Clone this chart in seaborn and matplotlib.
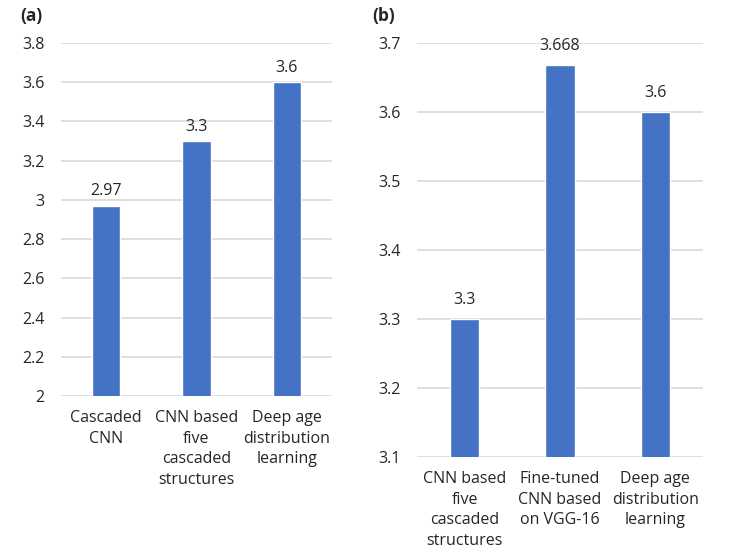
import matplotlib
matplotlib.use("Agg")
import matplotlib.pyplot as plt
import seaborn as sns

# panel (a)
cats_a = ["Cascaded\nCNN", "CNN based\nfive\ncascaded\nstructures", "Deep age\ndistribution\nlearning"]
vals_a = [2.97, 3.3, 3.6]
labels_a = ["2.97", "3.3", "3.6"]
ticks_a = [2, 2.2, 2.4, 2.6, 2.8, 3, 3.2, 3.4, 3.6, 3.8]
tick_labels_a = ["2", "2.2", "2.4", "2.6", "2.8", "3", "3.2", "3.4", "3.6", "3.8"]

# panel (b)
cats_b = ["CNN based\nfive\ncascaded\nstructures", "Fine-tuned\nCNN based\non VGG-16", "Deep age\ndistribution\nlearning"]
vals_b = [3.3, 3.668, 3.6]
labels_b = ["3.3", "3.668", "3.6"]
ticks_b = [3.1, 3.2, 3.3, 3.4, 3.5, 3.6, 3.7]
tick_labels_b = ["3.1", "3.2", "3.3", "3.4", "3.5", "3.6", "3.7"]

sns.set_theme(style="white")
plt.rcParams['font.family'] = ['Open Sans', 'DejaVu Sans']

BLUE = "#4472C4"
fig = plt.figure(figsize=(7.55, 5.58), dpi=100)
W, H = 755, 558
ax_a = fig.add_axes([61 / W, (H - 396) / H, 271 / W, 353 / H])
ax_b = fig.add_axes([417 / W, (H - 457) / H, 286 / W, 414 / H])


def draw(ax, cats, vals, labels, ticks, tick_labels):
    sns.barplot(x=cats, y=vals, color=BLUE, width=0.31, saturation=1, ax=ax, zorder=2)
    ax.set_ylim(ticks[0], ticks[-1])
    ax.set_yticks(ticks)
    ax.set_yticklabels(tick_labels, fontsize=11.5, color="#262626")
    ax.tick_params(axis="x", labelsize=11.5, colors="#262626", length=0, pad=10)
    for t in ax.get_xticklabels():
        t.set_linespacing(1.4)
    ax.tick_params(axis="y", length=0, pad=12)
    ax.grid(axis="y", color="#d9d9d9", linewidth=1.2, zorder=0)
    ax.set_axisbelow(True)
    for s in ax.spines.values():
        s.set_visible(False)
    step = ticks[1] - ticks[0]
    for i, (v, t) in enumerate(zip(vals, labels)):
        ax.text(i, v + step * 0.16, t, ha="center", va="bottom", fontsize=11.5, color="#262626")
    ax.set_xlim(-0.5, len(cats) - 0.5)


draw(ax_a, cats_a, vals_a, labels_a, ticks_a, tick_labels_a)
draw(ax_b, cats_b, vals_b, labels_b, ticks_b, tick_labels_b)

fig.text(20 / W, 1 - 16 / H, "(a)", fontsize=12.5, fontweight="bold", va="center", ha="left")
fig.text(372 / W, 1 - 16 / H, "(b)", fontsize=12.5, fontweight="bold", va="center", ha="left")

fig.savefig("out.png", dpi=100)
